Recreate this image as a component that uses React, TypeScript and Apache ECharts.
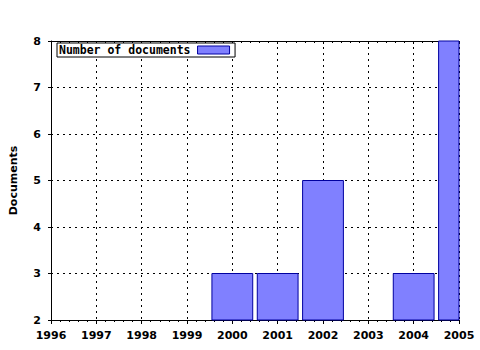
import React, { useEffect, useRef } from "react";
import * as echarts from "echarts";

const years = [2000, 2001, 2002, 2004, 2005];
const documents = [3, 3, 5, 3, 8];
const seriesName = "Number of documents";
const yAxisName = "Documents";

export default function App() {
  const ref = useRef<HTMLDivElement>(null);
  useEffect(() => {
    if (!ref.current) return;
    const chart = echarts.init(ref.current, undefined, { renderer: "svg" });
    const labelFont = { fontFamily: "DejaVu Sans", fontWeight: "bold" as const, fontSize: 11, color: "#000" };
    const barFill = "#8080ff";
    const barBorder = "#0000a0";
    chart.setOption({
      animation: false,
      backgroundColor: "#fff",
      grid: { left: 51, right: 21, top: 41, bottom: 30, containLabel: false },
      legend: {
        left: 57,
        top: 43,
        orient: "horizontal",
        align: "right",
        backgroundColor: "#fff",
        borderColor: "#000",
        borderWidth: 1,
        borderRadius: 0,
        padding: [1, 5, 1, 2],
        itemWidth: 32,
        itemHeight: 8,
        itemGap: 0,
        itemStyle: { color: barFill, borderColor: barBorder, borderWidth: 1 },
        textStyle: { fontFamily: "DejaVu Sans Mono", fontWeight: "bold", fontSize: 11.5, color: "#000", padding: [0, 2, 0, 0] },
        data: [{ name: seriesName, icon: "rect" }],
      },
      xAxis: [
        {
          type: "value",
          min: 1996,
          max: 2005,
          interval: 1,
          axisLine: { show: true, onZero: false, lineStyle: { color: "#000", width: 1 } },
          axisTick: { show: true, length: 4, lineStyle: { color: "#000" } },
          minorTick: { show: true, splitNumber: 5, length: 2, lineStyle: { color: "#000" } },
          axisLabel: { ...labelFont, margin: 10, formatter: (v: number) => String(v) },
          splitLine: { show: true, lineStyle: { color: "#000", type: [2, 4], width: 1 } },
        },
        {
          type: "value",
          position: "top",
          min: 1996,
          max: 2005,
          interval: 1,
          axisLine: { show: true, onZero: false, lineStyle: { color: "#000", width: 1 } },
          axisTick: { show: true, inside: true, length: 3, lineStyle: { color: "#000" } },
          minorTick: { show: true, splitNumber: 5, length: 2, lineStyle: { color: "#000" } },
          axisLabel: { show: false },
          splitLine: { show: false },
        },
      ],
      yAxis: {
        type: "value",
        min: 2,
        max: 8,
        interval: 1,
        name: yAxisName,
        nameLocation: "middle",
        nameGap: 32,
        nameRotate: 90,
        nameTextStyle: { fontFamily: "DejaVu Sans", fontWeight: "bold", fontSize: 11, color: "#000" },
        axisLine: { show: true, onZero: false, lineStyle: { color: "#000", width: 1 } },
        axisTick: { show: true, length: 3, lineStyle: { color: "#000" } },
        axisLabel: { ...labelFont, margin: 10 },
        splitLine: { show: true, lineStyle: { color: "#000", type: [2, 4], width: 1 } },
      },
      series: [
        {
          name: seriesName,
          type: "custom",
          xAxisIndex: 0,
          yAxisIndex: 0,
          encode: { x: 0, y: 1 },
          itemStyle: { color: barFill, borderColor: barBorder, borderWidth: 1 },
          renderItem: (params: any, api: any) => {
            const x = api.value(0);
            const y = api.value(1);
            const top = api.coord([x, y]);
            const base = api.coord([x, 2]);
            const half = api.size([0.9, 0])[0] / 2;
            const cs = params.coordSys;
            const shape = echarts.graphic.clipRectByRect(
              { x: top[0] - half, y: top[1], width: half * 2, height: base[1] - top[1] },
              { x: cs.x, y: cs.y - 1, width: cs.width, height: cs.height + 2 }
            );
            if (!shape) return null;
            return {
              type: "rect",
              shape,
              style: { fill: barFill, stroke: barBorder, lineWidth: 1 },
            };
          },
          data: years.map((y, i) => [y, documents[i]]),
        },
      ],
    });
    return () => chart.dispose();
  }, []);
  return <div ref={ref} style={{ width: 480, height: 350, position: "absolute", left: 0, top: 0 }} />;
}
